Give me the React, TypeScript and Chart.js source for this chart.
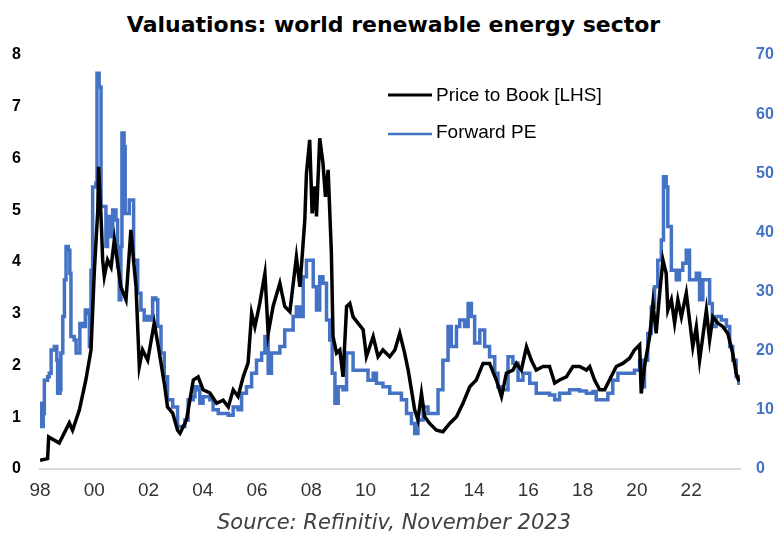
import React, { useEffect, useRef } from "react";
import { Chart, registerables } from "chart.js";

Chart.register(...registerables);

// Price to Book [LHS] — dates (decimal years) and values
const pbDates = [
  1998.0, 1998.28, 1998.32, 1998.71, 1999.08, 1999.2, 1999.45, 1999.69, 1999.88, 2000.0,
  2000.13, 2000.16, 2000.25, 2000.31, 2000.37, 2000.49, 2000.62, 2000.74, 2000.86, 2000.98,
  2001.17, 2001.35, 2001.47, 2001.54, 2001.66, 2001.78, 2001.97, 2002.21, 2002.34, 2002.58,
  2002.7, 2002.89, 2003.07, 2003.16, 2003.31, 2003.4, 2003.65, 2003.83, 2004.01, 2004.26,
  2004.51, 2004.75, 2004.94, 2005.12, 2005.3, 2005.49, 2005.67, 2005.8, 2005.92, 2006.1,
  2006.29, 2006.41, 2006.59, 2006.84, 2007.02, 2007.21, 2007.45, 2007.58, 2007.76, 2007.82,
  2007.94, 2008.03, 2008.13, 2008.19, 2008.31, 2008.43, 2008.52, 2008.62, 2008.74, 2008.8,
  2008.93, 2009.05, 2009.17, 2009.3, 2009.42, 2009.54, 2009.72, 2009.91, 2010.03, 2010.28,
  2010.46, 2010.64, 2010.89, 2011.08, 2011.26, 2011.44, 2011.57, 2011.69, 2011.81, 2011.93,
  2012.06, 2012.18, 2012.36, 2012.61, 2012.85, 2013.1, 2013.35, 2013.59, 2013.84, 2014.08,
  2014.33, 2014.57, 2014.82, 2015.01, 2015.19, 2015.43, 2015.56, 2015.74, 2015.93, 2016.11,
  2016.29, 2016.54, 2016.78, 2016.97, 2017.15, 2017.4, 2017.64, 2017.89, 2018.14, 2018.26,
  2018.44, 2018.63, 2018.81, 2018.99, 2019.24, 2019.48, 2019.73, 2019.91, 2020.1, 2020.16,
  2020.28, 2020.47, 2020.59, 2020.71, 2020.84, 2020.96, 2021.08, 2021.14, 2021.27, 2021.39,
  2021.51, 2021.64, 2021.82, 2021.94, 2022.06, 2022.19, 2022.31, 2022.43, 2022.56, 2022.68,
  2022.8, 2022.98, 2023.17, 2023.35, 2023.53, 2023.66, 2023.76,
];
const pbValues = [
  0.17, 0.2, 0.62, 0.5, 0.89, 0.75, 1.14, 1.72, 2.3, 3.8,
  5.0, 5.84, 4.87, 4.04, 3.72, 4.04, 3.9, 4.43, 3.98, 3.52,
  3.27, 4.62, 3.91, 3.52, 1.98, 2.3, 2.1, 2.82, 2.43, 1.66,
  1.2, 1.08, 0.75, 0.69, 0.85, 0.95, 1.72, 1.78, 1.53, 1.47,
  1.27, 1.33, 1.2, 1.53, 1.4, 1.78, 2.05, 3.01, 2.75, 3.2,
  3.78, 2.62, 3.14, 3.59, 3.14, 3.04, 4.1, 3.52, 4.81, 5.71,
  6.36, 4.94, 5.46, 4.88, 6.39, 5.91, 5.26, 5.78, 4.17, 2.56,
  2.24, 2.3, 1.78, 3.14, 3.2, 2.94, 2.82, 2.69, 2.17, 2.56,
  2.17, 2.3, 2.17, 2.3, 2.62, 2.24, 1.91, 1.53, 1.14, 0.95,
  1.46, 1.01, 0.88, 0.75, 0.72, 0.88, 1.01, 1.27, 1.59, 1.72,
  2.04, 2.04, 1.72, 1.4, 1.85, 1.91, 2.04, 1.91, 2.36, 2.1,
  1.91, 1.98, 1.98, 1.66, 1.72, 1.78, 1.98, 1.98, 1.91, 1.98,
  1.72, 1.53, 1.53, 1.72, 1.98, 2.04, 2.14, 2.3, 2.4, 1.46,
  1.98, 2.56, 3.2, 2.62, 3.4, 4.04, 3.78, 3.07, 3.27, 2.82,
  3.27, 2.94, 3.4, 2.88, 2.36, 2.75, 2.1, 2.56, 3.07, 2.49,
  2.94, 2.82, 2.75, 2.62, 2.24, 1.85, 1.69,
];

// Forward PE [RHS] — dates (decimal years) and values
const peDates = [
  1998.0, 1998.04, 1998.12, 1998.16, 1998.28, 1998.34, 1998.41, 1998.53, 1998.62, 1998.65,
  1998.74, 1998.77, 1998.84, 1998.9, 1998.96, 1999.04, 1999.1, 1999.14, 1999.26, 1999.33,
  1999.43, 1999.47, 1999.57, 1999.67, 1999.76, 1999.82, 1999.88, 1999.94, 2000.06, 2000.1,
  2000.18, 2000.25, 2000.37, 2000.43, 2000.49, 2000.62, 2000.68, 2000.8, 2000.86, 2000.92,
  2000.98, 2001.02, 2001.1, 2001.14, 2001.29, 2001.41, 2001.45, 2001.54, 2001.6, 2001.72,
  2001.84, 2001.97, 2002.09, 2002.15, 2002.27, 2002.34, 2002.46, 2002.58, 2002.7, 2002.89,
  2003.07, 2003.26, 2003.34, 2003.46, 2003.65, 2003.71, 2003.83, 2003.89, 2004.01, 2004.26,
  2004.38, 2004.57, 2004.75, 2004.94, 2005.12, 2005.3, 2005.43, 2005.61, 2005.8, 2005.98,
  2006.17, 2006.29, 2006.41, 2006.53, 2006.72, 2006.84, 2007.02, 2007.21, 2007.33, 2007.45,
  2007.58, 2007.7, 2007.82, 2007.94, 2008.07, 2008.19, 2008.31, 2008.43, 2008.56, 2008.68,
  2008.77, 2008.87, 2008.99, 2009.17, 2009.3, 2009.42, 2009.54, 2009.79, 2009.97, 2010.09,
  2010.28, 2010.4, 2010.64, 2010.89, 2011.14, 2011.32, 2011.51, 2011.69, 2011.81, 2011.93,
  2012.12, 2012.3, 2012.49, 2012.67, 2012.85, 2013.04, 2013.16, 2013.35, 2013.47, 2013.65,
  2013.78, 2013.9, 2014.02, 2014.21, 2014.39, 2014.57, 2014.76, 2014.88, 2015.06, 2015.25,
  2015.43, 2015.62, 2015.8, 2016.05, 2016.29, 2016.54, 2016.78, 2016.97, 2017.15, 2017.52,
  2017.89, 2018.14, 2018.38, 2018.5, 2018.75, 2018.93, 2019.11, 2019.3, 2019.55, 2019.73,
  2019.91, 2020.1, 2020.2, 2020.28, 2020.4, 2020.53, 2020.65, 2020.77, 2020.9, 2020.98,
  2021.08, 2021.14, 2021.27, 2021.45, 2021.57, 2021.69, 2021.82, 2021.94, 2022.12, 2022.19,
  2022.31, 2022.43, 2022.61, 2022.68, 2022.78, 2022.92, 2023.11, 2023.3, 2023.42, 2023.53,
  2023.66, 2023.76,
];
const peValues = [
  11.1, 7.2, 9.4, 15.0, 15.6, 16.2, 20.1, 20.7, 18.4, 12.8,
  13.4, 19.6, 25.8, 32.0, 37.6, 37.0, 33.1, 22.4, 21.8, 19.6,
  19.6, 24.6, 24.1, 26.9, 26.3, 20.7, 33.6, 47.7, 48.3, 66.9,
  64.6, 44.4, 44.4, 37.6, 42.7, 39.3, 43.8, 42.1, 34.2, 28.6,
  37.6, 56.8, 54.5, 43.2, 45.5, 45.5, 35.3, 35.3, 29.7, 26.9,
  25.2, 25.8, 25.2, 28.9, 28.6, 24.1, 19.6, 15.6, 11.7, 10.5,
  7.2, 7.2, 8.3, 11.7, 12.2, 13.9, 13.4, 11.1, 12.2, 11.7,
  10.0, 9.4, 9.4, 9.1, 10.5, 10.0, 12.8, 13.9, 16.2, 18.4,
  19.6, 22.4, 16.2, 19.6, 19.6, 20.7, 23.5, 23.5, 25.8, 27.4,
  25.8, 32.5, 35.3, 35.3, 30.8, 26.9, 32.5, 31.4, 25.2, 21.8,
  16.2, 11.1, 13.9, 13.4, 19.6, 19.6, 16.7, 16.7, 16.7, 15.0,
  16.2, 14.5, 13.9, 12.8, 12.8, 11.7, 9.4, 7.7, 6.0, 8.3,
  10.5, 9.4, 9.4, 13.4, 18.4, 24.1, 20.7, 24.1, 25.2, 24.1,
  28.0, 25.8, 21.3, 23.5, 20.7, 19.0, 16.2, 13.9, 13.4, 19.0,
  17.9, 15.0, 16.2, 14.5, 12.8, 12.8, 12.5, 11.7, 12.8, 13.4,
  13.2, 12.8, 13.1, 11.7, 11.7, 12.8, 15.0, 16.2, 16.2, 16.2,
  16.7, 18.4, 13.9, 18.4, 22.9, 27.4, 30.8, 35.3, 38.7, 49.4,
  47.7, 41.0, 33.6, 32.0, 33.6, 34.8, 37.0, 32.0, 32.0, 33.1,
  28.6, 32.0, 32.0, 28.0, 24.1, 25.8, 25.2, 24.1, 20.7, 18.4,
  15.6, 14.2,
];

const yearTicks = [1998, 2000, 2002, 2004, 2006, 2008, 2010, 2012, 2014, 2016, 2018, 2020, 2022];
const seriesLabels = ["Price to Book [LHS]", "Forward PE"];
const titleText = "Valuations: world renewable energy sector";
const sourceText = "Source: Refinitiv, November 2023";

const BLACK = "#000000";
const BLUE = "#4472C4";

const insideLegend = {
  id: "insideLegend",
  afterDraw(chart: any) {
    const ctx = chart.ctx;
    const items = [
      { y: 96, lineY: 95, w: 3 },
      { y: 133, lineY: 134, w: 2.5 },
    ];
    ctx.save();
    chart.data.datasets.forEach((ds: any, i: number) => {
      const it = items[i];
      ctx.strokeStyle = ds.borderColor;
      ctx.lineWidth = it.w;
      ctx.beginPath();
      ctx.moveTo(388, it.lineY);
      ctx.lineTo(432, it.lineY);
      ctx.stroke();
      ctx.fillStyle = "#000";
      ctx.font = "19px 'Liberation Sans', Arial, sans-serif";
      ctx.textAlign = "left";
      ctx.textBaseline = "middle";
      ctx.fillText(ds.label, 436, it.y);
    });
    ctx.restore();
  },
};

export default function App() {
  const ref = useRef<HTMLCanvasElement | null>(null);

  useEffect(() => {
    if (!ref.current) return;
    const chart = new Chart(ref.current, {
      type: "line",
      data: {
        datasets: [
          {
            label: seriesLabels[0],
            data: pbDates.map((d, i) => ({ x: d, y: pbValues[i] })),
            borderColor: BLACK,
            backgroundColor: BLACK,
            borderWidth: 3.5,
            pointRadius: 0,
            tension: 0,
            yAxisID: "y",
          },
          {
            label: seriesLabels[1],
            data: peDates.map((d, i) => ({ x: d, y: peValues[i] })),
            borderColor: BLUE,
            backgroundColor: BLUE,
            borderWidth: 3.5,
            pointRadius: 0,
            stepped: true,
            yAxisID: "y1",
          },
        ],
      },
      plugins: [insideLegend],
      options: {
        animation: false,
        responsive: true,
        maintainAspectRatio: false,
        layout: { padding: { top: 55, bottom: 34, left: 0, right: 0 } },
        plugins: {
          legend: { display: false },
          title: { display: false },
          tooltip: { enabled: false },
        },
        scales: {
          x: {
            type: "linear",
            min: 1998,
            max: 2023.8,
            afterBuildTicks: (scale: any) => {
              scale.ticks = yearTicks.map((v) => ({ value: v }));
            },
            afterFit: (scale: any) => {
              scale.height = 30;
            },
            grid: { display: false, drawTicks: false },
            border: { display: true, color: "#d9d9d9", width: 2 },
            ticks: {
              padding: 10,
              maxRotation: 0,
              autoSkip: false,
              color: "#333333",
              font: { family: "'Liberation Sans', Arial, sans-serif", size: 19 },
              callback: (v: any) => String(Math.round(Number(v)) % 100).padStart(2, "0"),
            },
          },
          y: {
            position: "left",
            min: 0,
            max: 8,
            afterFit: (scale: any) => {
              scale.width = 40;
            },
            grid: { display: false, drawTicks: false },
            border: { display: false },
            ticks: {
              stepSize: 1,
              padding: 19,
              color: "#000000",
              font: { family: "'Liberation Sans', Arial, sans-serif", size: 16, weight: "bold" },
            },
          },
          y1: {
            position: "right",
            min: 0,
            max: 70,
            afterFit: (scale: any) => {
              scale.width = 39;
            },
            grid: { display: false, drawTicks: false },
            border: { display: false },
            ticks: {
              stepSize: 10,
              padding: 16,
              color: BLUE,
              font: { family: "'Liberation Sans', Arial, sans-serif", size: 16, weight: "bold" },
            },
          },
        },
      },
    } as any);
    return () => chart.destroy();
  }, []);

  return (
    <div
      style={{
        position: "fixed",
        left: 0,
        top: 0,
        width: 779,
        height: 533,
        background: "#ffffff",
        overflow: "hidden",
      }}
    >
      <div
        style={{
          position: "absolute",
          left: 0,
          top: 10,
          width: 787,
          textAlign: "center",
          fontFamily: "'DejaVu Sans', sans-serif",
          fontWeight: 700,
          fontSize: 22,
          lineHeight: "30px",
          color: "#000",
        }}
      >
        {titleText}
      </div>
      <div style={{ position: "absolute", left: 0, top: 0, width: 779, height: 533 }}>
        <canvas ref={ref} />
      </div>
      <div
        style={{
          position: "absolute",
          left: 0,
          top: 507,
          width: 788,
          textAlign: "center",
          fontFamily: "'DejaVu Sans', sans-serif",
          fontStyle: "italic",
          fontSize: 21,
          lineHeight: "30px",
          color: "#404040",
        }}
      >
        {sourceText}
      </div>
    </div>
  );
}
